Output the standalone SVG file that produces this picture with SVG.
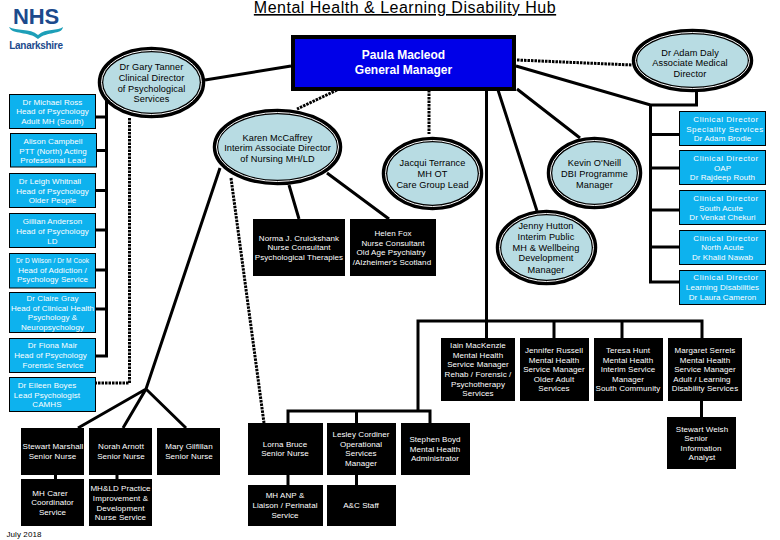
<svg xmlns="http://www.w3.org/2000/svg" width="780" height="540" viewBox="0 0 780 540">
<style>
text{font-family:"Liberation Sans",Arial,sans-serif;font-size:8px;letter-spacing:.08px;text-anchor:middle}
.w{fill:#fff}.k{fill:#000}
.c{fill:#0db2ee;stroke:#000;stroke-width:1}
.b{fill:#000}
.e{fill:#b8dce3;stroke:#000;stroke-width:5.500}
.g{fill:none;stroke:#fff;stroke-width:1}
#gary text,#karen text,#jacqui text,#adam text,#kevin text,#jenny text{font-size:9.200px}
.h{letter-spacing:.55px}
#connectors path{fill:none;stroke:#000;stroke-width:3}
#connectors .d{stroke-dasharray:2.500 1}
</style>
<rect width="780" height="540" fill="#fff"/>
<g id="logo"><text x="36" y="24" style="font-size:22px;font-weight:bold;letter-spacing:-.2px;fill:#1c4a8c">NHS</text>
<path d="M9 27C16 31 30 28 38 35C46 28 58 31 63 27C62 35 47 31 38 39C29 31 12 35 9 27Z" fill="#1d9fb8"/>
<text x="36" y="49" style="font-size:10px;font-weight:bold;letter-spacing:-.3px;fill:#1c4a8c">Lanarkshire</text></g>
<g id="title"><text x="405" y="13" style="font-size:16px;letter-spacing:.5px;text-decoration:underline" class="k">Mental Health &amp; Learning Disability Hub</text></g>
<g id="connectors">
<path d="M205 80L291 66"/>
<path d="M106.500 100V356H96M96 117H106M96 150.500H106M96 190.500H106M96 230H106M96 270H106M96 309H106"/>
<path class="d" d="M129.500 118V383H96"/>
<path d="M220 168L146 389M78 428L146 389L186 428M146 389L123 428"/>
<path class="d" d="M231 178L264 423"/>
<path d="M289 185L299 219M327 173L389 219"/>
<path class="d" d="M337 90L297 109"/>
<path class="d" d="M429 90V134"/>
<path class="d" d="M517 60L632 65"/>
<path d="M516 66L650.500 105H696.500V92M650.500 105V282H679M650.500 134.500H679M650.500 168H679M650.500 210H679M650.500 247H679"/>
<path d="M517 89L580 138M498 90L537 211"/>
<path d="M486.500 90V338M418 411V321H702V338M554 321V338M622 321V338"/>
<path d="M288 423V411H430V423M356.500 411V423M288 475V485M356.500 475V485"/>
<path d="M55.500 475V479M117 475V479M701.500 401V417"/>
</g>
<g id="general-manager"><rect x="293" y="37" width="221" height="52" fill="#0000e8" stroke="#000" stroke-width="4"/><text x="403.500" y="59" class="w" style="font-size:12px;font-weight:bold;letter-spacing:0">Paula Macleod</text><text x="403.500" y="74" class="w" style="font-size:12px;font-weight:bold;letter-spacing:0">General Manager</text></g>
<g id="gary"><ellipse class="e" cx="151.500" cy="82.500" rx="51" ry="33"/><ellipse class="g" cx="151.500" cy="82.500" rx="50" ry="32"/><text x="151.500" y="70" class="k">Dr Gary Tanner</text><text x="151.500" y="81" class="k">Clinical Director</text><text x="151.500" y="92" class="k">of Psychological</text><text x="151.500" y="102" class="k">Services</text></g>
<g id="karen"><ellipse class="e" cx="277.500" cy="147" rx="62" ry="35.500"/><ellipse class="g" cx="277.500" cy="147" rx="61" ry="34.500"/><text x="277.500" y="141" class="k">Karen McCaffrey</text><text x="277.500" y="151" class="k">Interim Associate Director</text><text x="277.500" y="162" class="k">of Nursing MH/LD</text></g>
<g id="jacqui"><ellipse class="e" cx="432.500" cy="173.500" rx="48" ry="34"/><ellipse class="g" cx="432.500" cy="173.500" rx="47" ry="33"/><text x="432.500" y="166" class="k">Jacqui Terrance</text><text x="432.500" y="177" class="k">MH OT</text><text x="432.500" y="188" class="k">Care Group Lead</text></g>
<g id="adam"><ellipse class="e" cx="692.500" cy="60.500" rx="58" ry="29"/><ellipse class="g" cx="692.500" cy="60.500" rx="57" ry="28"/><text x="690" y="56" class="k">Dr Adam Daly</text><text x="690" y="66" class="k">Associate Medical</text><text x="690" y="77" class="k">Director</text></g>
<g id="kevin"><ellipse class="e" cx="594.500" cy="173" rx="45" ry="33.500"/><ellipse class="g" cx="594.500" cy="173" rx="44" ry="32.500"/><text x="594.500" y="166" class="k">Kevin O'Neill</text><text x="594.500" y="177" class="k">DBI Programme</text><text x="594.500" y="188" class="k">Manager</text></g>
<g id="jenny"><ellipse class="e" cx="546.500" cy="247.500" rx="48" ry="35"/><ellipse class="g" cx="546.500" cy="247.500" rx="47" ry="34"/><text x="546" y="229" class="k">Jenny Hutton</text><text x="546" y="240" class="k">Interim Public</text><text x="546" y="251" class="k">MH &amp; Wellbeing</text><text x="546" y="261" class="k">Development</text><text x="546" y="273" class="k">Manager</text></g>
<g id="michael-ross"><rect class="c" x="9.500" y="94.500" width="86" height="34"/><text x="52.500" y="105" class="w">Dr Michael Ross</text><text x="52.500" y="114" class="w">Head of Psychology</text><text x="52.500" y="124" class="w">Adult MH (South)</text></g>
<g id="alison-campbell"><rect class="c" x="10.500" y="133.500" width="86" height="33.500"/><text x="53" y="144" class="w">Alison Campbell</text><text x="53" y="154" class="w">PTT (North) Acting</text><text x="53" y="163" class="w">Professional Lead</text></g>
<g id="leigh-whitnall"><rect class="c" x="9.500" y="173.500" width="86" height="34"/><text x="50" y="184" class="w">Dr Leigh Whitnall</text><text x="52.500" y="194" class="w">Head of Psychology</text><text x="52.500" y="203" class="w">Older People</text></g>
<g id="gillian-anderson"><rect class="c" x="9.500" y="213.500" width="86" height="34"/><text x="52.500" y="224" class="w">Gillian Anderson</text><text x="52.500" y="234" class="w">Head of Psychology</text><text x="52.500" y="244" class="w">LD</text></g>
<g id="wilson-cook"><rect class="c" x="9.500" y="253.500" width="86" height="34.500"/><text x="52.500" y="263" class="w" style="font-size:6.500px">Dr D Wilson / Dr M Cook</text><text x="52.500" y="273" class="w">Head of Addiction /</text><text x="52.500" y="282" class="w">Psychology Service</text></g>
<g id="claire-gray"><rect class="c" x="9.500" y="292.500" width="86" height="40"/><text x="52.500" y="301" class="w">Dr Claire Gray</text><text x="52.500" y="311" class="w">Head of Clinical Health</text><text x="52.500" y="320" class="w">Psychology &amp;</text><text x="52.500" y="330" class="w">Neuropsychology</text></g>
<g id="fiona-mair"><rect class="c" x="9.500" y="338.500" width="86" height="34"/><text x="52.500" y="348" class="w">Dr Fiona Mair</text><text x="50.500" y="358" class="w">Head of Psychology</text><text x="53" y="368" class="w">Forensic Service</text></g>
<g id="eileen-boyes"><rect class="c" x="9.500" y="377.500" width="86" height="34"/><text x="47" y="388" class="w">Dr Eileen Boyes</text><text x="47" y="398" class="w">Lead Psychologist</text><text x="47" y="407" class="w">CAMHS</text></g>
<g id="cd-speciality"><rect class="c" x="679.500" y="111.500" width="86" height="34"/><text x="726" y="122" class="w h">Clinical Director</text><text x="725" y="132" class="w h">Speciality Services</text><text x="722.500" y="141" class="w">Dr Adam Brodie</text></g>
<g id="cd-oap"><rect class="c" x="679.500" y="150.500" width="86" height="34"/><text x="726" y="161" class="w h">Clinical Director</text><text x="722.500" y="171" class="w">OAP</text><text x="722.500" y="180" class="w">Dr Rajdeep Routh</text></g>
<g id="cd-south"><rect class="c" x="679.500" y="190.500" width="86" height="34"/><text x="726" y="201" class="w h">Clinical Director</text><text x="721" y="211" class="w">South Acute</text><text x="722.500" y="220" class="w">Dr Venkat Chekuri</text></g>
<g id="cd-north"><rect class="c" x="679.500" y="230.500" width="86" height="34"/><text x="726" y="241" class="w h">Clinical Director</text><text x="722.500" y="250" class="w">North Acute</text><text x="722.500" y="260" class="w">Dr Khalid Nawab</text></g>
<g id="cd-ld"><rect class="c" x="679.500" y="270.500" width="86" height="34"/><text x="726" y="280" class="w h">Clinical Director</text><text x="722.500" y="290" class="w">Learning Disabilities</text><text x="722.500" y="300" class="w">Dr Laura Cameron</text></g>
<g id="norma"><rect class="b" x="253" y="219" width="92" height="57"/><text x="299" y="241" class="w">Norma J. Cruickshank</text><text x="299" y="250" class="w">Nurse Consultant</text><text x="299" y="260" class="w">Psychological Therapies</text></g>
<g id="helen"><rect class="b" x="350" y="219" width="86" height="57"/><text x="393" y="236" class="w">Helen Fox</text><text x="393" y="246" class="w">Nurse Consultant</text><text x="391" y="255" class="w">Old Age Psychiatry</text><text x="392" y="265" class="w">/Alzheimer's Scotland</text></g>
<g id="stewart-marshall"><rect class="b" x="21" y="428" width="63" height="47"/><text x="53" y="449" class="w">Stewart Marshall</text><text x="52.500" y="459" class="w">Senior Nurse</text></g>
<g id="norah"><rect class="b" x="89" y="428" width="63" height="47"/><text x="121" y="449" class="w">Norah Arnott</text><text x="121" y="459" class="w">Senior Nurse</text></g>
<g id="mary"><rect class="b" x="157" y="428" width="63" height="47"/><text x="189" y="449" class="w">Mary Gilfillan</text><text x="189" y="459" class="w">Senior Nurse</text></g>
<g id="mh-carer"><rect class="b" x="21" y="479" width="63" height="47"/><text x="50" y="496" class="w">MH Carer</text><text x="52.500" y="505" class="w">Coordinator</text><text x="52.500" y="515" class="w">Service</text></g>
<g id="practice"><rect class="b" x="89" y="479" width="63" height="47"/><text x="120.500" y="491" class="w">MH&amp;LD Practice</text><text x="120.500" y="501" class="w">Improvement &amp;</text><text x="120.500" y="511" class="w">Development</text><text x="120.500" y="520" class="w">Nurse Service</text></g>
<g id="lorna"><rect class="b" x="248" y="423" width="75" height="52"/><text x="285" y="447" class="w">Lorna Bruce</text><text x="285" y="456" class="w">Senior Nurse</text></g>
<g id="lesley"><rect class="b" x="327" y="423" width="69" height="52"/><text x="361" y="437" class="w">Lesley Cordiner</text><text x="361" y="447" class="w">Operational</text><text x="361" y="456" class="w">Services</text><text x="361" y="466" class="w">Manager</text></g>
<g id="stephen"><rect class="b" x="401" y="423" width="69" height="52"/><text x="435" y="442" class="w">Stephen Boyd</text><text x="435" y="452" class="w">Mental Health</text><text x="435" y="461" class="w">Administrator</text></g>
<g id="mh-anp"><rect class="b" x="248" y="485" width="75" height="41"/><text x="285" y="498" class="w">MH ANP &amp;</text><text x="285" y="508" class="w">Liaison / Perinatal</text><text x="285" y="518" class="w">Service</text></g>
<g id="ac-staff"><rect class="b" x="327" y="485" width="69" height="41"/><text x="361" y="508" class="w">A&amp;C Staff</text></g>
<g id="iain"><rect class="b" x="441" y="338" width="74" height="63"/><text x="478" y="348" class="w">Iain MacKenzie</text><text x="478" y="358" class="w">Mental Health</text><text x="478" y="367" class="w">Service Manager</text><text x="478" y="377" class="w">Rehab / Forensic /</text><text x="478" y="387" class="w">Psychotherapy</text><text x="478" y="396" class="w">Services</text></g>
<g id="jennifer"><rect class="b" x="520" y="338" width="69" height="63"/><text x="554" y="353" class="w">Jennifer Russell</text><text x="554" y="363" class="w">Mental Health</text><text x="554" y="372" class="w">Service Manager</text><text x="554" y="382" class="w">Older Adult</text><text x="554" y="391" class="w">Services</text></g>
<g id="teresa"><rect class="b" x="594" y="338" width="69" height="63"/><text x="628" y="353" class="w">Teresa Hunt</text><text x="628" y="363" class="w">Mental Health</text><text x="628" y="372" class="w">Interim Service</text><text x="628" y="382" class="w">Manager</text><text x="628" y="391" class="w">South Community</text></g>
<g id="margaret"><rect class="b" x="668" y="338" width="74" height="63"/><text x="705" y="353" class="w">Margaret Serrels</text><text x="705" y="363" class="w">Mental Health</text><text x="705" y="372" class="w">Service Manager</text><text x="702" y="382" class="w">Adult / Learning</text><text x="705" y="391" class="w">Disability Services</text></g>
<g id="stewart-welsh"><rect class="b" x="667" y="417" width="69" height="52"/><text x="702" y="432" class="w">Stewart Welsh</text><text x="696" y="441" class="w">Senior</text><text x="701" y="451" class="w">Information</text><text x="702" y="460" class="w">Analyst</text></g>
<g id="date"><text x="24" y="537" class="k">July 2018</text></g>
</svg>
